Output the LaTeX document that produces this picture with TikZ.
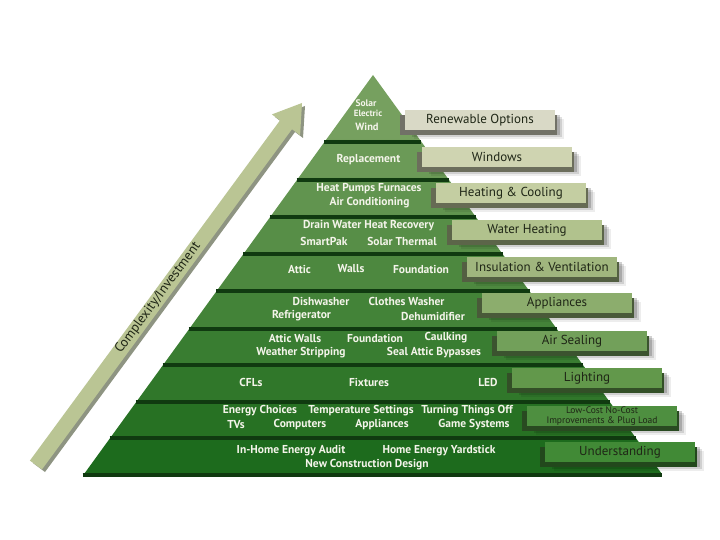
\documentclass[tikz,border=0pt]{standalone}
\usepackage{fontspec}
\setmainfont{PT Sans}
\usepackage{tikz}
\usetikzlibrary{shadows}

\definecolor{lvlA}{HTML}{76A05F}
\definecolor{lvlB}{HTML}{6B9A57}
\definecolor{lvlC}{HTML}{61944F}
\definecolor{lvlD}{HTML}{578E47}
\definecolor{lvlE}{HTML}{4D883F}
\definecolor{lvlF}{HTML}{438338}
\definecolor{lvlG}{HTML}{397D31}
\definecolor{lvlH}{HTML}{30772A}
\definecolor{lvlI}{HTML}{277123}
\definecolor{lvlJ}{HTML}{1D6B1D}
\definecolor{rim}{HTML}{103A10}
\definecolor{tagA}{HTML}{D9D9C6}
\definecolor{tagB}{HTML}{CFD4B1}
\definecolor{tagC}{HTML}{C4CEA2}
\definecolor{tagD}{HTML}{B1C28D}
\definecolor{tagE}{HTML}{A0B67E}
\definecolor{tagF}{HTML}{8CAD6D}
\definecolor{tagG}{HTML}{72A05A}
\definecolor{tagH}{HTML}{62984B}
\definecolor{tagI}{HTML}{4E8F40}
\definecolor{tagJ}{HTML}{418A36}
\definecolor{tagtext}{HTML}{1F2616}
\definecolor{itemtext}{HTML}{F4F4EA}
\definecolor{arrowface}{HTML}{BAC594}
\definecolor{arrowedge}{HTML}{8E9482}

\begin{document}
\begin{tikzpicture}[x=1pt, y=-1pt,
  item/.style={text=itemtext, inner sep=0pt, font=\bfseries\fontsize{11.5}{12}\selectfont},
  tag/.style={fill=#1, text=tagtext, minimum width=150pt, minimum height=20pt, inner sep=1pt,
    font=\fontsize{13}{14}\selectfont,
    drop shadow={shadow xshift=9pt, shadow yshift=-9pt, opacity=.07, fill=black},
    drop shadow={shadow xshift=7pt, shadow yshift=-7pt, opacity=.12, fill=black},
    drop shadow={shadow xshift=5pt, shadow yshift=-5pt, opacity=.18, fill=black},
    general shadow={shadow xshift=2pt, shadow yshift=-5pt, fill=#1!52!black},
    general shadow={shadow xshift=-5pt, shadow yshift=-5pt, fill=#1!52!black}},
  rimline/.style={draw=rim, line width=4pt}]
\useasboundingbox (0,0) rectangle (720,540);

% growth arrow
\fill[arrowedge] (33,463) -- (283,123) -- (275,117) -- (305,106) -- (303,138) -- (295,132) -- (45,472) -- cycle;
\fill[arrowface] (29.9,460.6) -- (280,120.4) -- (271.9,114.4) -- (302,103) -- (300.1,135.2) -- (292,129.2) -- (42,469.4) -- cycle;
\node (axis) [rotate=53.5, text=tagtext, font=\fontsize{13.5}{14}\selectfont] at (158,298) {Complexity/Investment};

% pyramid levels
\fill[lvlA] (373,75) -- (420.1,140) -- (325.9,140) -- cycle;
\fill[lvlB] (325.9,140) -- (420.1,140) -- (447.6,178) -- (298.4,178) -- cycle;
\fill[lvlC] (298.4,178) -- (447.6,178) -- (474.4,215) -- (271.6,215) -- cycle;
\fill[lvlD] (271.6,215) -- (474.4,215) -- (501.1,252) -- (244.9,252) -- cycle;
\fill[lvlE] (244.9,252) -- (501.1,252) -- (527.9,289) -- (218.1,289) -- cycle;
\fill[lvlF] (218.1,289) -- (527.9,289) -- (555.4,327) -- (190.6,327) -- cycle;
\fill[lvlG] (190.6,327) -- (555.4,327) -- (581.5,363) -- (164.5,363) -- cycle;
\fill[lvlH] (164.5,363) -- (581.5,363) -- (608.3,400) -- (137.7,400) -- cycle;
\fill[lvlI] (137.7,400) -- (608.3,400) -- (634.4,436) -- (111.6,436) -- cycle;
\fill[lvlJ] (111.6,436) -- (634.4,436) -- (661.2,473) -- (84.8,473) -- cycle;
\draw[rimline] (324,142) -- (421,142);
\draw[rimline] (296.5,180) -- (449,180);
\draw[rimline] (269.5,217) -- (476,217);
\draw[rimline] (243,254) -- (503,254);
\draw[rimline] (216,291) -- (530,291);
\draw[rimline] (188.5,329) -- (557,329);
\draw[rimline] (162.5,365) -- (583,365);
\draw[rimline] (135.5,402) -- (610,402);
\draw[rimline] (109.5,438) -- (636,438);
\draw[rimline] (82.5,475) -- (662,475);

% what goes in each level
\node (solar) [item, font=\bfseries\fontsize{9.5}{10}\selectfont] at (366,103) {Solar};
\node (electric) [item, font=\bfseries\fontsize{9}{10}\selectfont] at (368,113) {Electric};
\node (wind) [item, font=\bfseries\fontsize{10.5}{11}\selectfont] at (367,127) {Wind};
\node (replacement) [item] at (368.5,160) {Replacement};
\node (heatpumps) [item] at (369,189) {Heat Pumps Furnaces};
\node (aircond) [item] at (369.5,203) {Air Conditioning};
\node (drainwater) [item] at (368.5,226) {Drain Water Heat Recovery};
\node (smartpak) [item] at (324,241) {SmartPak};
\node (solarthermal) [item] at (402,241) {Solar Thermal};
\node (attic) [item] at (299.5,269) {Attic};
\node (walls) [item] at (351,269) {Walls};
\node (foundation) [item] at (421,269) {Foundation};
\node (dishwasher) [item] at (321,301) {Dishwasher};
\node (washer) [item] at (406.5,301) {Clothes Washer};
\node (fridge) [item] at (301.5,316) {Refrigerator};
\node (dehumid) [item] at (433,316) {Dehumidifier};
\node (atticwalls) [item] at (295,338) {Attic Walls};
\node (foundation2) [item] at (375,338) {Foundation};
\node (caulking) [item] at (446,338) {Caulking};
\node (weather) [item] at (301,353) {Weather Stripping};
\node (bypasses) [item] at (434,353) {Seal Attic Bypasses};
\node (cfl) [item] at (251,382) {CFLs};
\node (fixtures) [item] at (369,382) {Fixtures};
\node (led) [item] at (488,382) {LED};
\node (choices) [item] at (260,411) {Energy Choices};
\node (temp) [item] at (361,411) {Temperature Settings};
\node (turnoff) [item] at (467,411) {Turning Things Off};
\node (tv) [item] at (236,425) {TVs};
\node (computers) [item] at (300,425) {Computers};
\node (appliances) [item] at (382,425) {Appliances};
\node (games) [item] at (474,425) {Game Systems};
\node (audit) [item] at (291,451) {In-Home Energy Audit};
\node (yardstick) [item] at (439,451) {Home Energy Yardstick};
\node (newbuild) [item] at (367,465) {New Construction Design};

% category tags
\node (renew) [tag=tagA] at (480,120) {Renewable Options};
\node (windows) [tag=tagB] at (497,157) {Windows};
\node (heating) [tag=tagC] at (511,193) {Heating \& Cooling};
\node (water) [tag=tagD] at (527,230) {Water Heating};
\node (insul) [tag=tagE] at (542,267) {Insulation \& Ventilation};
\node (appl) [tag=tagF] at (557,303) {Appliances};
\node (airseal) [tag=tagG] at (572,341) {Air Sealing};
\node (lighting) [tag=tagH] at (587,378) {Lighting};
\node (lowcost) [tag=tagI, align=center, font=\fontsize{9.5}{9.5}\selectfont] at (602,416) {Low-Cost No-Cost\\Improvements \& Plug Load};
\node (underst) [tag=tagJ] at (620,452) {Understanding};
\end{tikzpicture}
\end{document}
